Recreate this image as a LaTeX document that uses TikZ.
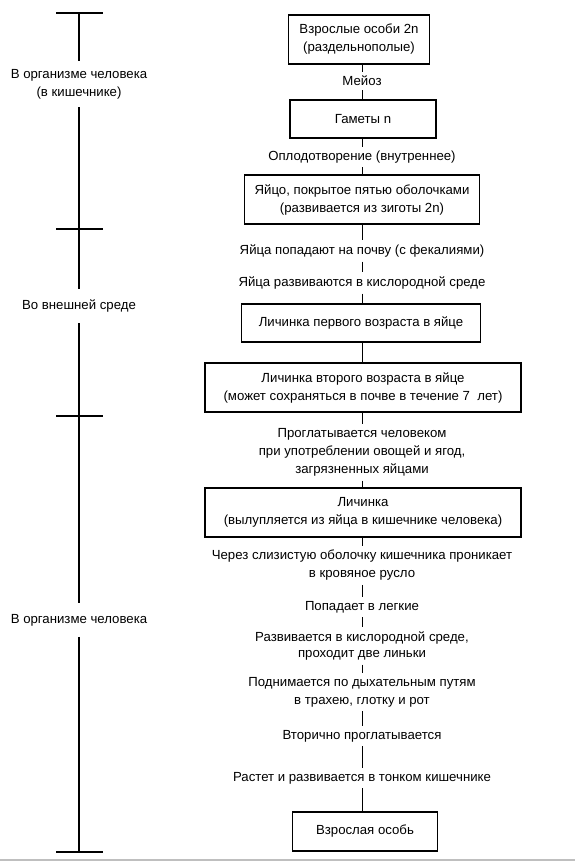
\documentclass[tikz,border=0pt]{standalone}
\usepackage{fontspec}
\setmainfont{Liberation Sans}
\begin{document}
\begin{tikzpicture}[x=0.75pt, y=-0.75pt,
    every node/.style={font=\fontsize{9.9}{13.5}\selectfont, align=center},
    box/.style={draw, line width=1pt, inner sep=0pt},
    lbl/.style={inner sep=3pt},
    zone/.style={inner sep=8pt},
    link/.style={line width=0.6pt},
    axis/.style={line width=0.8pt}]
    \useasboundingbox (0,0) rectangle (575,861);

    % 1. Шкала слева
    \coordinate (k0) at (79,13);
    \coordinate (k1) at (79,229);
    \coordinate (k2) at (79,416);
    \coordinate (k3) at (79,852);
    \node[zone, inner sep=6pt] (zA) at (79,84) {В организме человека\\(в кишечнике)};
    \node[zone] (zB) at (79,306) {Во внешней среде};
    \node[zone] (zC) at (79,620) {В организме человека};
    \draw[axis] (k0) -- (zA);
    \draw[axis] (zA) -- (k1);
    \draw[axis] (k1) -- (zB);
    \draw[axis] (zB) -- (k2);
    \draw[axis] (k2) -- (zC);
    \draw[axis, line width=1pt] (zC) -- (k3);
    \foreach \y in {13,229,416,852}
        \draw[axis] (56,\y) -- (103,\y);

    % 2. Стадии развития
    \coordinate (mid) at (362,0);
    \node[box, minimum width=105.75pt, minimum height=36.75pt] (b1) at (359,39.5)
        {Взрослые особи 2n\\(раздельнополые)};
    \node[lbl] (t1) at (362,81) {Мейоз};
    \node[box, minimum width=109.5pt, minimum height=28.5pt] (b2) at (363,119) {Гаметы n};
    \node[lbl] (t2) at (362,157) {Оплодотворение (внутреннее)};
    \node[box, minimum width=176.25pt, minimum height=36.75pt] (b3) at (362,199.5)
        {Яйцо, покрытое пятью оболочками\\(развивается из зиготы 2n)};
    \node[lbl] (t3) at (362,251) {Яйца попадают на почву (с фекалиями)};
    \node[lbl] (t4) at (362,283) {Яйца развиваются в кислородной среде};
    \node[box, minimum width=179.25pt, minimum height=28.5pt] (b4) at (361,323)
        {Личинка первого возраста в яйце};
    \node[box, minimum width=237pt, minimum height=36.75pt] (b5) at (363,387.5)
        {Личинка второго возраста в яйце\\(может сохраняться в почве в течение 7~~лет)};
    \node[lbl] (t5) at (362,452.5)
        {Проглатывается человеком\\при употреблении овощей и ягод,\\загрязненных яйцами};
    \node[box, minimum width=237pt, minimum height=36.75pt] (b6) at (363,512.5)
        {Личинка\\(вылупляется из яйца в кишечнике человека)};
    \node[lbl] (t6) at (362,565.5)
        {Через слизистую оболочку кишечника проникает\\в кровяное русло};
    \node[lbl] (t7) at (362,607) {Попадает в легкие};
    \node[lbl, font=\fontsize{9.9}{12}\selectfont] (t8) at (362,646)
        {Развивается в кислородной среде,\\проходит две линьки};
    \node[lbl] (t9) at (362,692) {Поднимается по дыхательным путям\\в трахею, глотку и рот};
    \node[lbl] (t10) at (362,736) {Вторично проглатывается};
    \node[lbl] (t11) at (362,778) {Растет и развивается в тонком кишечнике};
    \node[box, minimum width=108.75pt, minimum height=29.25pt] (b7) at (365,831.5)
        {Взрослая особь};

    % 3. Связи
    \foreach \a/\b in {b1/t1, t1/b2, b2/t2, t2/b3, b3/t3, t3/t4, t4/b4, b4/b5, b5/t5,
                       t5/b6, b6/t6, t6/t7, t7/t8, t8/t9, t9/t10, t10/t11, t11/b7}
        \draw[link] (\a.south -| mid) -- (\b.north -| mid);

    % 4. Нижняя граница
    \draw[black!25, line width=1pt] (0,860) -- (575,860);
\end{tikzpicture}
\end{document}
